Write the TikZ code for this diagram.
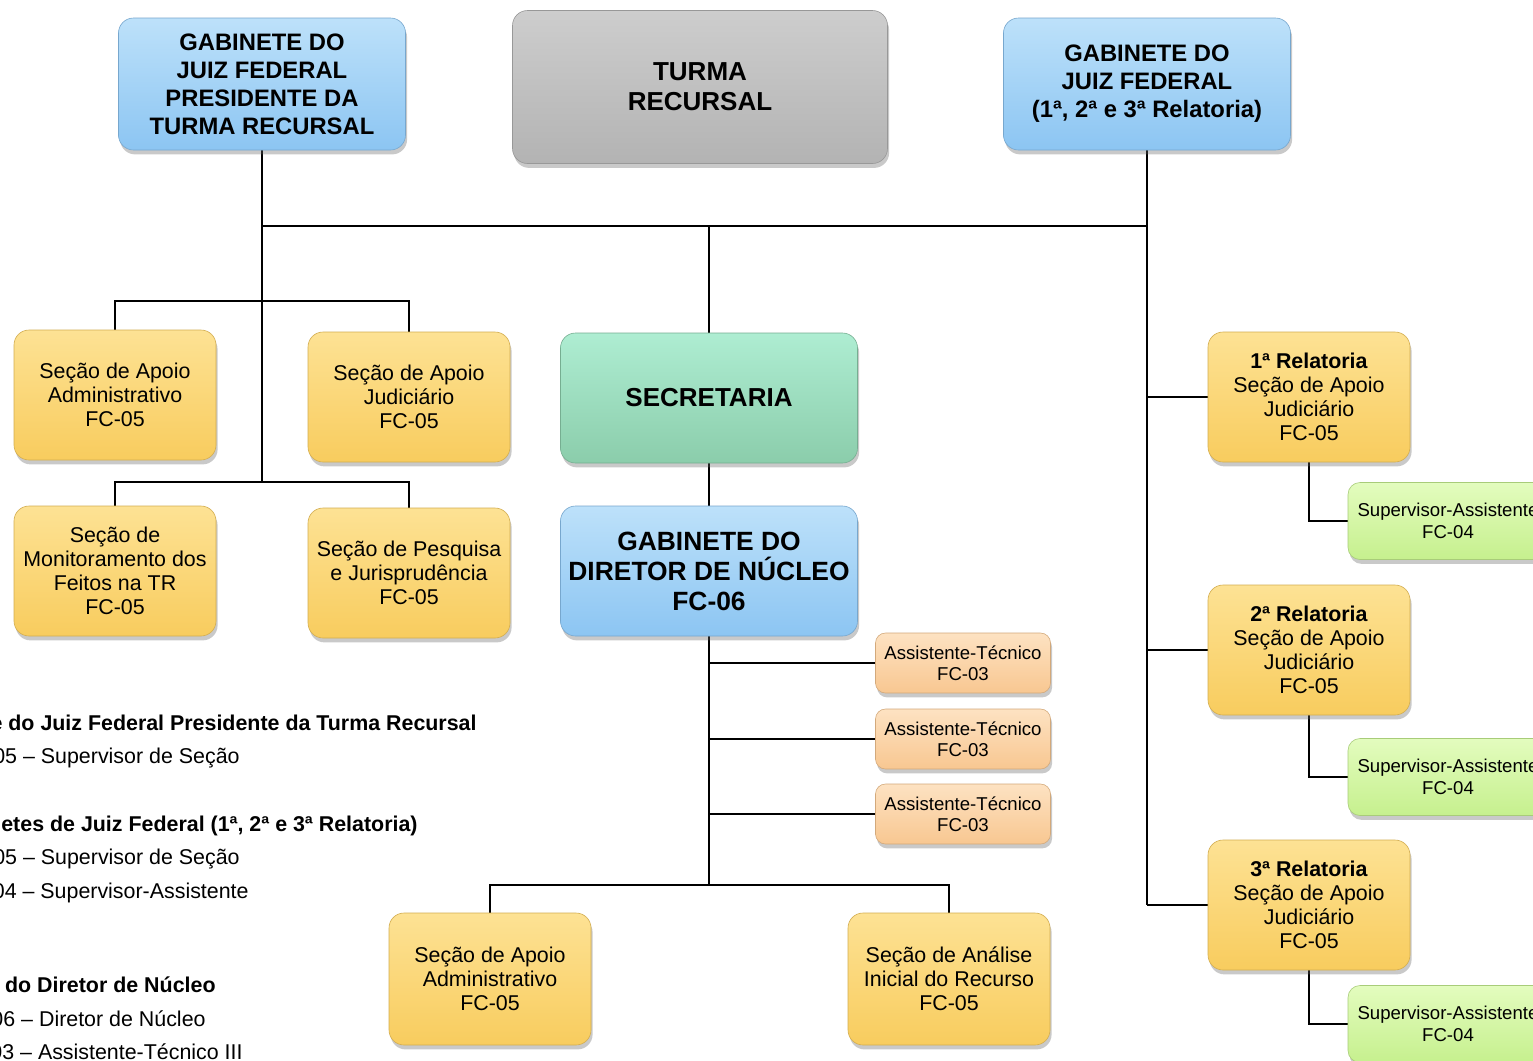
\documentclass[tikz,border=0pt]{standalone}
\usepackage{fontspec}
\setmainfont{Liberation Sans}
\usetikzlibrary{shadows,backgrounds}
\definecolor{bluetop}{HTML}{BDE1FA}
\definecolor{bluebot}{HTML}{8CC5F2}
\definecolor{graytop}{HTML}{CDCDCD}
\definecolor{graybot}{HTML}{B3B3B3}
\definecolor{yeltop}{HTML}{FDE294}
\definecolor{yelbot}{HTML}{F8CC5E}
\definecolor{grntop}{HTML}{AEEDD2}
\definecolor{grnbot}{HTML}{8BCDAB}
\definecolor{pchtop}{HTML}{FDE2C2}
\definecolor{pchbot}{HTML}{F8C791}
\definecolor{lgtop}{HTML}{E3FCBE}
\definecolor{lgbot}{HTML}{C6F08E}
\tikzset{
  box/.style={rounded corners=7.5pt, align=center, inner sep=0pt,
    drop shadow={shadow xshift=0.8pt, shadow yshift=-2.2pt, opacity=0.35, fill=black!60}},
  bluebox/.style={box, top color=bluetop, bottom color=bluebot, draw=bluebot!85!black, line width=0.3pt,
    font=\bfseries\fontsize{11.9}{14}\selectfont},
  graybox/.style={box, top color=graytop, bottom color=graybot, draw=graybot!85!black, line width=0.3pt,
    font=\bfseries\fontsize{13}{15}\selectfont},
  yelbox/.style={box, top color=yeltop, bottom color=yelbot, draw=yelbot!85!black, line width=0.3pt,
    minimum width=101pt, minimum height=65pt, font=\fontsize{10.7}{12}\selectfont},
  grnbox/.style={box, top color=grntop, bottom color=grnbot, draw=grnbot!85!black, line width=0.3pt,
    font=\bfseries\fontsize{13}{15}\selectfont},
  pchbox/.style={box, rounded corners=5pt, top color=pchtop, bottom color=pchbot, draw=pchbot!85!black, line width=0.3pt,
    minimum width=87.5pt, minimum height=30pt, font=\fontsize{9.3}{10.5}\selectfont},
  lgbox/.style={box, rounded corners=6pt, top color=lgtop, bottom color=lgbot, draw=lgbot!85!black, line width=0.3pt,
    minimum width=100pt, minimum height=38.5pt, font=\fontsize{9.3}{11}\selectfont},
  conn/.style={line width=1pt, black},
  legb/.style={anchor=base east, inner sep=0pt, font=\bfseries\fontsize{10.7}{12}\selectfont},
  legn/.style={anchor=base east, inner sep=0pt, font=\fontsize{10.7}{12}\selectfont},
}
\begin{document}
\begin{tikzpicture}[x=0.5pt,y=-0.5pt]
\useasboundingbox (0,0) rectangle (1533,1061);

% top row
\node[bluebox, minimum width=143.5pt, minimum height=66pt] (gp) at (262,84)
  {GABINETE DO\\JUIZ FEDERAL\\PRESIDENTE DA\\TURMA RECURSAL};
\node[graybox, minimum width=187.5pt, minimum height=76.5pt] (tr) at (700,87)
  {TURMA\\RECURSAL};
\node[bluebox, minimum width=143.5pt, minimum height=66pt] (gj) at (1147,84)
  {GABINETE DO\\JUIZ FEDERAL\\(1ª, 2ª e 3ª Relatoria)};

% left sections
\node[yelbox] (sa) at (115,395) {Seção de Apoio\\Administrativo\\FC-05};
\node[yelbox] (sj) at (409,397) {Seção de Apoio\\Judiciário\\FC-05};
\node[yelbox] (sm) at (115,571) {Seção de\\Monitoramento dos\\Feitos na TR\\FC-05};
\node[yelbox] (sp) at (409,573) {Seção de Pesquisa\\e Jurisprudência\\FC-05};

% center
\node[grnbox, minimum width=148.5pt, minimum height=65pt] (sec) at (709,398) {SECRETARIA};
\node[bluebox, minimum width=148.5pt, minimum height=65pt, font=\bfseries\fontsize{13.2}{15}\selectfont] (gd) at (709,571)
  {GABINETE DO\\DIRETOR DE NÚCLEO\\FC-06};
\node[pchbox] (a1) at (963,663) {Assistente-Técnico\\FC-03};
\node[pchbox] (a2) at (963,739) {Assistente-Técnico\\FC-03};
\node[pchbox] (a3) at (963,814) {Assistente-Técnico\\FC-03};
\node[yelbox, minimum height=66pt] (b1) at (490,979) {Seção de Apoio\\Administrativo\\FC-05};
\node[yelbox, minimum height=66pt] (b2) at (949,979) {Seção de Análise\\Inicial do Recurso\\FC-05};

% right
\node[yelbox] (r1) at (1309,397) {\textbf{1ª Relatoria}\\Seção de Apoio\\Judiciário\\FC-05};
\node[yelbox] (r2) at (1309,650) {\textbf{2ª Relatoria}\\Seção de Apoio\\Judiciário\\FC-05};
\node[yelbox] (r3) at (1309,905) {\textbf{3ª Relatoria}\\Seção de Apoio\\Judiciário\\FC-05};
\node[lgbox] (s1) at (1448,521) {Supervisor-Assistente\\FC-04};
\node[lgbox] (s2) at (1448,777) {Supervisor-Assistente\\FC-04};
\node[lgbox] (s3) at (1448,1024) {Supervisor-Assistente\\FC-04};

% junction coordinates
\coordinate (hbar) at (0,226);
\coordinate (lb1) at (262,301);
\coordinate (lb2) at (262,482);
\coordinate (cb) at (709,885);
\coordinate (rb) at (1147,905);

\begin{scope}[on background layer]
\fill[white] (0,0) rectangle (1533,1061);
\draw[conn] (gp.south) -- (gp.south |- hbar) -- (gj.south |- hbar) -- (gj.south);
\draw[conn] (sec.north) -- (sec.north |- hbar);
\draw[conn] (gp.south) -- (lb2);
\draw[conn] (sa.north) |- (lb1) -| (sj.north);
\draw[conn] (sm.north) |- (lb2) -| (sp.north);
\draw[conn] (sec.south) -- (gd.north);
\draw[conn] (gd.south) -- (cb);
\draw[conn] (a1.west) -- (a1.west -| cb);
\draw[conn] (a2.west) -- (a2.west -| cb);
\draw[conn] (a3.west) -- (a3.west -| cb);
\draw[conn] (b1.north) |- (cb) -| (b2.north);
\draw[conn] (gj.south) -- (rb);
\draw[conn] (r1.west) -- (r1.west -| rb);
\draw[conn] (r2.west) -- (r2.west -| rb);
\draw[conn] (r3.west) -- (r3.west -| rb);
\draw[conn] (r1.south) |- (s1.west);
\draw[conn] (r2.south) |- (s2.west);
\draw[conn] (r3.south) |- (s3.west);
\end{scope}

% legend
\node[legb] (l1) at (477,730) {e do Juiz Federal Presidente da Turma Recursal};
\node[legn] (l2) at (240,763) {05 – Supervisor de Seção};
\node[legb] (l3) at (418,831) {etes de Juiz Federal (1ª, 2ª e 3ª Relatoria)};
\node[legn] (l4) at (240,864) {05 – Supervisor de Seção};
\node[legn] (l5) at (249,898) {04 – Supervisor-Assistente};
\node[legb] (l6) at (216,992) {do Diretor de Núcleo};
\node[legn] (l7) at (206,1026) {06 – Diretor de Núcleo};
\node[legn] (l8) at (243,1059) {03 – Assistente-Técnico III};
\end{tikzpicture}
\end{document}
